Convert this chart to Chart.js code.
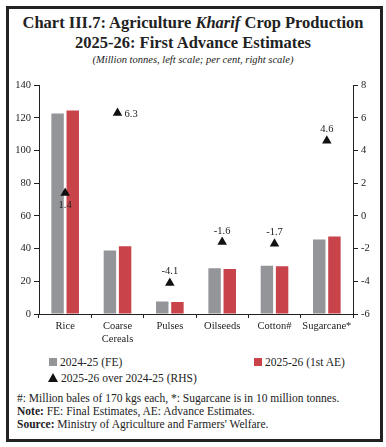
<!DOCTYPE html>
<html>
<head>
<meta charset="utf-8">
<script src="https://cdn.jsdelivr.net/npm/chart.js@4.4.1/dist/chart.umd.min.js"></script>
<style>
  body { margin: 0; background: #fff; font-family: 'Liberation Serif', serif; color: #222; }
  #frame { position: absolute; left: 6px; top: 6px; width: 371px; height: 430px; border: 3px solid #222; }
  .title { position: absolute; left: 0; width: 386px; text-align: center; font-weight: bold; font-size: 16.5px; }
  .sub { position: absolute; left: 0; width: 386px; top: 54px; text-align: center; font-style: italic; font-size: 10.5px; }
  #wrap { position: absolute; left: 8px; top: 76px; width: 370px; height: 274px; }
  .leg { position: absolute; font-size: 11.5px; white-space: nowrap; }
  .sq { display: inline-block; width: 8px; height: 8px; margin-right: 3px; vertical-align: 0px; }
  .tri { display: inline-block; width: 0; height: 0; border-left: 5px solid transparent; border-right: 5px solid transparent; border-bottom: 9px solid #111; margin-right: 3px; vertical-align: 0px; }
  .foot { position: absolute; left: 17px; font-size: 11.5px; white-space: nowrap; }
</style>
</head>
<body>
<div id="frame"></div>
<div class="title" style="top:13px">Chart III.7: Agriculture <i>Kharif</i> Crop Production</div>
<div class="title" style="top:33px">2025-26: First Advance Estimates</div>
<div class="sub">(Million tonnes, left scale; per cent, right scale)</div>
<div id="wrap"><canvas id="myChart"></canvas></div>

<div class="leg" style="left:49px; top:356px"><span class="sq" style="background:#939598"></span>2024-25 (FE)</div>
<div class="leg" style="left:254px; top:356px"><span class="sq" style="background:#c8434a"></span>2025-26 (1st AE)</div>
<div class="leg" style="left:48px; top:372px"><span class="tri"></span>2025-26 over 2024-25 (RHS)</div>

<div class="foot" style="top:392px">#: Million bales of 170 kgs each, *: Sugarcane is in 10 million tonnes.</div>
<div class="foot" style="top:405px"><b>Note:</b> FE: Final Estimates, AE: Advance Estimates.</div>
<div class="foot" style="top:418px"><b>Source:</b> Ministry of Agriculture and Farmers' Welfare.</div>

<script>
const categories = [['Rice'], ['Coarse', 'Cereals'], ['Pulses'], ['Oilseeds'], ['Cotton#'], ['Sugarcane*']];
const fe2425 = [122.8, 38.9, 7.7, 28.0, 29.6, 45.6];
const ae2526 = [124.6, 41.4, 7.3, 27.6, 29.2, 47.5];
const growth = [1.4, 6.3, -4.1, -1.6, -1.7, 4.6];
// where the growth label sits relative to the triangle
const labelPos = ['below', 'right', 'above', 'above', 'above', 'above'];

const pointLabels = {
    id: 'pointLabels',
    afterDatasetsDraw(chart) {
        const c = chart.ctx;
        const meta = chart.getDatasetMeta(2);
        c.save();
        c.font = '10.5px "Liberation Serif"';
        c.fillStyle = '#222';
        meta.data.forEach(function(pt, i) {
            const txt = growth[i].toFixed(1);
            if (labelPos[i] === 'below') {
                c.textAlign = 'center'; c.textBaseline = 'top';
                c.fillText(txt, pt.x, pt.y + 7);
            } else if (labelPos[i] === 'right') {
                c.textAlign = 'left'; c.textBaseline = 'middle';
                c.fillText(txt, pt.x + 7, pt.y + 1);
            } else {
                c.textAlign = 'center'; c.textBaseline = 'bottom';
                c.fillText(txt, pt.x, pt.y - 6);
            }
        });
        c.restore();
    }
};

const ctx = document.getElementById('myChart');

new Chart(ctx, {
  data: {
    labels: categories,
    datasets: [{
      type: 'bar',
      label: '2024-25 (FE)',
      data: fe2425,
      backgroundColor: '#939598',
      yAxisID: 'y',
      categoryPercentage: 0.58,
      barPercentage: 0.82,
      order: 2
    }, {
      type: 'bar',
      label: '2025-26 (1st AE)',
      data: ae2526,
      backgroundColor: '#c8434a',
      yAxisID: 'y',
      categoryPercentage: 0.58,
      barPercentage: 0.82,
      order: 2
    }, {
      type: 'line',
      label: '2025-26 over 2024-25 (RHS)',
      data: growth,
      yAxisID: 'y1',
      showLine: false,
      pointStyle: 'triangle',
      pointRadius: 5.5,
      backgroundColor: '#111',
      borderColor: '#111',
      borderWidth: 0,
      order: 1
    }]
  },
  options: {
    responsive: true,
    maintainAspectRatio: false,
    animation: false,
    layout: { padding: { top: 8, left: 0, right: 0, bottom: 0 } },
    plugins: {
        legend: { display: false },
        tooltip: { enabled: false }
    },
    scales: {
        x: {
            grid: { display: true, drawOnChartArea: false, color: '#222', tickLength: 4, offset: true },
            border: { color: '#222' },
            ticks: {
                color: '#222',
                padding: 2,
                maxRotation: 0,
                autoSkip: false,
                font: { family: 'Liberation Serif', size: 10.5 }
            },
            afterFit: function(scale) { scale.height = 36; }
        },
        y: {
            position: 'left',
            min: 0,
            max: 140,
            ticks: {
                stepSize: 20,
                color: '#222',
                padding: 3,
                font: { family: 'Liberation Serif', size: 10.5 }
            },
            grid: { drawOnChartArea: false, color: '#222', tickLength: 5 },
            border: { color: '#222' },
            afterFit: function(scale) { scale.width = 31; }
        },
        y1: {
            position: 'right',
            min: -6,
            max: 8,
            ticks: {
                stepSize: 2,
                color: '#222',
                padding: 3,
                font: { family: 'Liberation Serif', size: 10.5 }
            },
            grid: { drawOnChartArea: false, color: '#222', tickLength: 5 },
            border: { color: '#222' },
            afterFit: function(scale) { scale.width = 25; }
        }
    }
  },
  plugins: [pointLabels]
});
</script>
</body>
</html>
